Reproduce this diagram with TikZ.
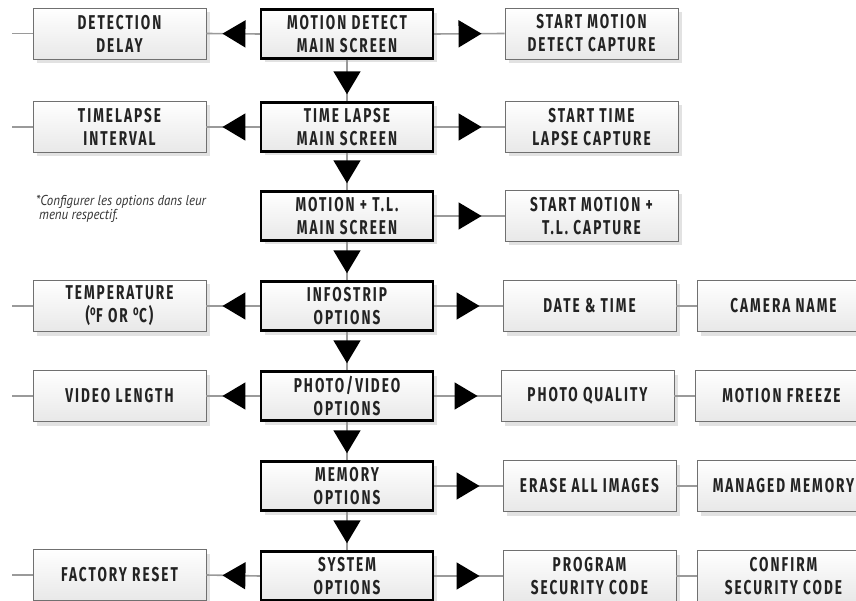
\documentclass[tikz,border=0pt]{standalone}
\usepackage{fontspec}
\usetikzlibrary{arrows.meta,decorations.markings,shadows}
\newfontfamily\boxfamily[FakeStretch=0.68,LetterSpace=10]{Fira Sans}
\newfontfamily\notefamily[FakeStretch=0.9]{PT Sans}
\definecolor{txt}{HTML}{232323}
\definecolor{boxgray}{HTML}{707070}
\definecolor{linegray}{HTML}{9A9A9A}
\definecolor{shade}{HTML}{E2E2E2}
\tikzset{
  box/.style={draw=boxgray, line width=0.9pt, top color=white, bottom color=black!9,
    minimum height=51pt, inner sep=0pt, align=center,
    font=\boxfamily\bfseries\fontsize{20}{23}\selectfont, text=txt,
    drop shadow={shadow xshift=4pt, shadow yshift=-4pt, fill=shade, opacity=1}},
  mainbox/.style={box, draw=black, line width=2.4pt, minimum width=172pt, minimum height=49pt},
  sidebox/.style={box, minimum width=173pt},
  conn/.style={draw=linegray, line width=1.6pt},
  tri/.style={conn, postaction={decorate}, decoration={markings,
    mark=at position #1 with {\arrow{Triangle[length=23pt,width=27pt,color=black]}}}},
  note/.style={align=left, inner sep=0pt, text=black!80,
    font=\notefamily\itshape\fontsize{14.3}{14.5}\selectfont}
}
\begin{document}
\begin{tikzpicture}[x=1pt,y=-1pt]
\useasboundingbox (0,0) rectangle (856,601);
\clip (0,0) rectangle (856,601);
% center column
\node[mainbox] (md) at (347,34) {MOTION DETECT\\MAIN SCREEN};
\node[mainbox] (tl) at (347,127) {TIME LAPSE\\MAIN SCREEN};
\node[mainbox] (mt) at (347,216) {MOTION + T.L.\\MAIN SCREEN};
\node[mainbox] (io) at (347,306) {INFOSTRIP\\OPTIONS};
\node[mainbox] (pv) at (347,396) {PHOTO/VIDEO\\OPTIONS};
\node[mainbox] (mo) at (347,486) {MEMORY\\OPTIONS};
\node[mainbox] (so) at (347,576) {SYSTEM\\OPTIONS};
% left column
\node[sidebox] (dd) at (119.5,33.5) {DETECTION\\DELAY};
\node[sidebox] (ti) at (119.5,127) {TIMELAPSE\\INTERVAL};
\node[sidebox] (te) at (119.5,306) {TEMPERATURE\\(\textsuperscript{o}F OR \textsuperscript{o}C)};
\node[sidebox] (vl) at (119.5,396) {VIDEO LENGTH};
\node[sidebox] (fr) at (119.5,575) {FACTORY RESET};
% right columns
\node[sidebox] (sm) at (591.5,33.5) {START MOTION\\DETECT CAPTURE};
\node[sidebox] (st) at (591.5,127) {START TIME\\LAPSE CAPTURE};
\node[sidebox] (sc) at (591.5,216) {START MOTION +\\T.L. CAPTURE};
\node[sidebox] (dt) at (589.5,306) {DATE \& TIME};
\node[sidebox] (cn) at (783.5,306) {CAMERA NAME};
\node[sidebox] (pq) at (587.5,396) {PHOTO QUALITY};
\node[sidebox] (mf) at (781.5,396) {MOTION FREEZE};
\node[sidebox] (ea) at (589.5,486) {ERASE ALL IMAGES};
\node[sidebox] (mm) at (783.5,486) {MANAGED MEMORY};
\node[sidebox] (ps) at (589.5,576) {PROGRAM\\SECURITY CODE};
\node[sidebox] (cs) at (783.5,576) {CONFIRM\\SECURITY CODE};
% note
\node[note, anchor=north west] (nt) at (36,195) {*Configurer les options dans leur\\\hspace*{3pt}menu respectif.};
% left stubs
\coordinate (ddL) at (12,33.5);
\coordinate (tiL) at (12,127);
\coordinate (teL) at (12,306);
\coordinate (vlL) at (12,396);
\coordinate (frL) at (12,575);
\foreach \n in {dd,ti,te,vl,fr} \draw[conn] (\n.west) -- (\n L);
% vertical arrows
\draw[tri=-7pt] (md.south) -- (tl.north);
\draw[tri=-7pt] (tl.south) -- (mt.north);
\draw[tri=-7pt] (mt.south) -- (io.north);
\draw[tri=-7pt] (io.south) -- (pv.north);
\draw[tri=-7pt] (pv.south) -- (mo.north);
\draw[tri=-7pt] (mo.south) -- (so.north);
% left arrows
\draw[tri=-16pt] (md.west) -- (dd.east);
\draw[tri=-16pt] (tl.west) -- (ti.east);
\draw[tri=-16pt] (io.west) -- (te.east);
\draw[tri=-16pt] (pv.west) -- (vl.east);
\draw[tri=-16pt] (so.west) -- (fr.east);
% right arrows
\draw[tri=-23pt] (md.east) -- (sm.west);
\draw[tri=-23pt] (tl.east) -- (st.west);
\draw[tri=-23pt] (mt.east) -- (sc.west);
\draw[tri=-23pt] (io.east) -- (dt.west);
\draw[tri=-23pt] (pv.east) -- (pq.west);
\draw[tri=-23pt] (mo.east) -- (ea.west);
\draw[tri=-23pt] (so.east) -- (ps.west);
% chained boxes
\draw[conn] (dt.east) -- (cn.west);
\draw[conn] (pq.east) -- (mf.west);
\draw[conn] (ea.east) -- (mm.west);
\draw[conn] (ps.east) -- (cs.west);
\end{tikzpicture}
\end{document}
